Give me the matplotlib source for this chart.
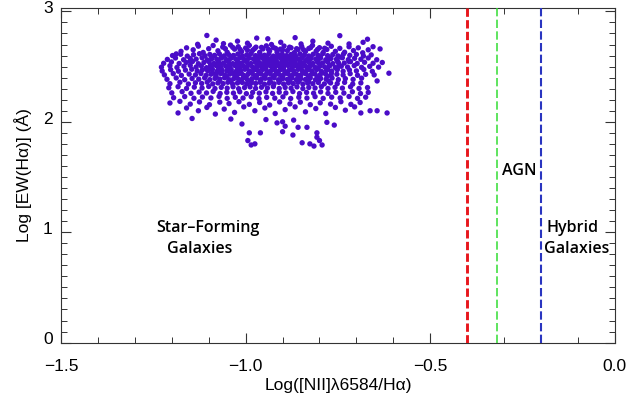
import numpy as np
import matplotlib
matplotlib.use("Agg")
import matplotlib.pyplot as plt
import matplotlib.transforms as mtransforms
from matplotlib.ticker import MultipleLocator, FuncFormatter

# Star-forming galaxies: (log([NII]6584/Halpha), log EW(Halpha) [A])
sf_points = [
    # upper fringe
    (-1.105, 2.782), (-0.970, 2.758), (-0.940, 2.752), (-0.866, 2.762), (-1.022, 2.730),
    (-0.777, 2.712), (-0.670, 2.748), (-0.682, 2.720), (-0.745, 2.780), (-1.060, 2.708),
    (-1.130, 2.702), (-0.905, 2.720), (-0.995, 2.712), (-0.818, 2.730), (-0.720, 2.705),
    (-1.080, 2.740), (-0.850, 2.705), (-0.930, 2.700),
    # 2.62 - 2.70
    (-1.175, 2.638), (-1.160, 2.670), (-1.142, 2.652), (-1.128, 2.685), (-1.115, 2.628),
    (-1.100, 2.662), (-1.088, 2.691), (-1.075, 2.643), (-1.062, 2.677), (-1.050, 2.630),
    (-1.041, 2.695), (-1.030, 2.658), (-1.020, 2.680), (-1.011, 2.636), (-1.000, 2.668),
    (-0.990, 2.692), (-0.981, 2.647), (-0.972, 2.676), (-0.962, 2.629), (-0.953, 2.660),
    (-0.944, 2.688), (-0.935, 2.642), (-0.925, 2.673), (-0.915, 2.632), (-0.906, 2.658),
    (-0.896, 2.686), (-0.887, 2.645), (-0.877, 2.670), (-0.868, 2.627), (-0.858, 2.655),
    (-0.848, 2.681), (-0.838, 2.637), (-0.829, 2.664), (-0.819, 2.692), (-0.809, 2.640),
    (-0.800, 2.671), (-0.790, 2.628), (-0.780, 2.655), (-0.768, 2.684), (-0.757, 2.638),
    (-0.745, 2.665), (-0.732, 2.630), (-0.720, 2.680), (-0.708, 2.645), (-0.695, 2.670),
    (-0.683, 2.625), (-0.668, 2.652), (-1.188, 2.615), (-0.655, 2.680), (-0.636, 2.660),
    (-1.055, 2.662), (-1.035, 2.674), (-1.015, 2.655), (-0.995, 2.648), (-0.976, 2.662),
    (-0.957, 2.674), (-0.938, 2.655), (-0.919, 2.665), (-0.900, 2.650), (-0.881, 2.676),
    (-0.862, 2.662), (-0.843, 2.652), (-0.824, 2.672), (-0.805, 2.656), (-0.786, 2.666),
    # ~2.60
    (-1.198, 2.600), (-1.176, 2.612), (-1.158, 2.595), (-1.141, 2.608), (-1.125, 2.617),
    (-1.110, 2.598), (-1.097, 2.610), (-1.084, 2.602), (-1.071, 2.615), (-1.058, 2.597),
    (-1.046, 2.609), (-1.033, 2.601), (-1.021, 2.614), (-1.009, 2.596), (-0.997, 2.606),
    (-0.985, 2.618), (-0.973, 2.599), (-0.961, 2.611), (-0.949, 2.603), (-0.937, 2.616),
    (-0.925, 2.595), (-0.913, 2.607), (-0.901, 2.613), (-0.889, 2.600), (-0.877, 2.610),
    (-0.865, 2.598), (-0.853, 2.615), (-0.841, 2.605), (-0.829, 2.596), (-0.817, 2.612),
    (-0.804, 2.602), (-0.791, 2.617), (-0.778, 2.599), (-0.764, 2.609), (-0.750, 2.597),
    (-0.735, 2.614), (-0.718, 2.602), (-0.700, 2.610), (-0.681, 2.596), (-0.660, 2.606),
    (-1.092, 2.585), (-1.066, 2.580), (-1.040, 2.590), (-1.015, 2.582), (-0.991, 2.588),
    (-0.967, 2.579), (-0.943, 2.590), (-0.919, 2.583), (-0.895, 2.587), (-0.871, 2.578),
    (-0.847, 2.589), (-0.823, 2.582), (-0.798, 2.588), (-0.772, 2.580), (-0.745, 2.586),
    # ~2.57
    (-1.212, 2.565), (-1.190, 2.578), (-1.168, 2.562), (-1.150, 2.574), (-1.134, 2.568),
    (-1.118, 2.580), (-1.104, 2.561), (-1.091, 2.573), (-1.078, 2.567), (-1.065, 2.579),
    (-1.052, 2.563), (-1.040, 2.575), (-1.027, 2.569), (-1.015, 2.581), (-1.003, 2.564),
    (-0.991, 2.576), (-0.979, 2.570), (-0.967, 2.560), (-0.955, 2.578), (-0.943, 2.566),
    (-0.931, 2.573), (-0.919, 2.562), (-0.907, 2.580), (-0.895, 2.568), (-0.883, 2.575),
    (-0.871, 2.561), (-0.859, 2.571), (-0.847, 2.579), (-0.835, 2.564), (-0.823, 2.574),
    (-0.810, 2.567), (-0.797, 2.578), (-0.783, 2.562), (-0.769, 2.573), (-0.754, 2.567),
    (-0.738, 2.580), (-0.722, 2.563), (-0.705, 2.575), (-0.688, 2.566), (-0.668, 2.578),
    (-0.645, 2.562),
    (-1.100, 2.550), (-1.074, 2.545), (-1.048, 2.554), (-1.022, 2.547), (-0.997, 2.553),
    (-0.973, 2.544), (-0.949, 2.555), (-0.925, 2.548), (-0.901, 2.552), (-0.877, 2.543),
    (-0.853, 2.554), (-0.829, 2.547), (-0.804, 2.553), (-0.778, 2.545), (-0.752, 2.551),
    (-1.150, 2.548), (-0.720, 2.546),
    # ~2.535
    (-1.222, 2.530), (-1.201, 2.542), (-1.180, 2.528), (-1.161, 2.538), (-1.144, 2.546),
    (-1.128, 2.526), (-1.113, 2.537), (-1.099, 2.545), (-1.086, 2.529), (-1.073, 2.540),
    (-1.060, 2.532), (-1.047, 2.544), (-1.035, 2.527), (-1.022, 2.539), (-1.010, 2.533),
    (-0.998, 2.546), (-0.986, 2.528), (-0.974, 2.540), (-0.962, 2.534), (-0.950, 2.525),
    (-0.938, 2.543), (-0.926, 2.531), (-0.914, 2.538), (-0.902, 2.527), (-0.890, 2.545),
    (-0.878, 2.533), (-0.866, 2.540), (-0.854, 2.526), (-0.842, 2.536), (-0.830, 2.544),
    (-0.818, 2.529), (-0.805, 2.539), (-0.792, 2.532), (-0.778, 2.543), (-0.764, 2.527),
    (-0.749, 2.538), (-0.733, 2.532), (-0.716, 2.545), (-0.698, 2.528), (-0.678, 2.539),
    (-0.655, 2.530), (-0.630, 2.537),
    (-1.095, 2.515), (-1.069, 2.510), (-1.043, 2.519), (-1.017, 2.512), (-0.992, 2.518),
    (-0.968, 2.509), (-0.944, 2.520), (-0.920, 2.513), (-0.896, 2.517), (-0.872, 2.508),
    (-0.848, 2.519), (-0.824, 2.512), (-0.799, 2.518), (-0.773, 2.510), (-0.747, 2.516),
    # ~2.50
    (-1.228, 2.495), (-1.205, 2.508), (-1.186, 2.492), (-1.167, 2.503), (-1.150, 2.511),
    (-1.134, 2.496), (-1.120, 2.506), (-1.106, 2.490), (-1.093, 2.502), (-1.080, 2.510),
    (-1.067, 2.494), (-1.054, 2.505), (-1.042, 2.498), (-1.029, 2.509), (-1.017, 2.492),
    (-1.005, 2.503), (-0.993, 2.511), (-0.981, 2.495), (-0.969, 2.506), (-0.957, 2.499),
    (-0.945, 2.490), (-0.933, 2.508), (-0.921, 2.496), (-0.909, 2.504), (-0.897, 2.492),
    (-0.885, 2.510), (-0.873, 2.498), (-0.861, 2.505), (-0.849, 2.491), (-0.837, 2.502),
    (-0.825, 2.509), (-0.812, 2.494), (-0.799, 2.504), (-0.786, 2.497), (-0.772, 2.508),
    (-0.757, 2.492), (-0.741, 2.503), (-0.724, 2.496), (-0.706, 2.509), (-0.686, 2.493),
    (-0.664, 2.502), (-0.640, 2.495),
    (-1.100, 2.480), (-1.074, 2.475), (-1.048, 2.484), (-1.022, 2.477), (-0.997, 2.483),
    (-0.973, 2.474), (-0.949, 2.485), (-0.925, 2.478), (-0.901, 2.482), (-0.877, 2.473),
    (-0.853, 2.484), (-0.829, 2.477), (-0.804, 2.483), (-0.778, 2.475), (-0.752, 2.481),
    # ~2.465
    (-1.226, 2.460), (-1.203, 2.472), (-1.182, 2.458), (-1.163, 2.468), (-1.146, 2.476),
    (-1.131, 2.460), (-1.117, 2.471), (-1.103, 2.464), (-1.090, 2.475), (-1.077, 2.457),
    (-1.064, 2.468), (-1.051, 2.461), (-1.039, 2.473), (-1.026, 2.456), (-1.014, 2.467),
    (-1.002, 2.476), (-0.990, 2.459), (-0.978, 2.470), (-0.966, 2.463), (-0.954, 2.474),
    (-0.942, 2.455), (-0.930, 2.466), (-0.918, 2.460), (-0.906, 2.472), (-0.894, 2.457),
    (-0.882, 2.469), (-0.870, 2.462), (-0.858, 2.475), (-0.846, 2.458), (-0.834, 2.467),
    (-0.821, 2.461), (-0.808, 2.473), (-0.795, 2.456), (-0.781, 2.468), (-0.767, 2.460),
    (-0.752, 2.472), (-0.736, 2.458), (-0.719, 2.469), (-0.700, 2.461), (-0.680, 2.474),
    (-0.657, 2.457), (-0.612, 2.440),
    (-1.090, 2.445), (-1.064, 2.440), (-1.038, 2.449), (-1.012, 2.442), (-0.987, 2.448),
    (-0.963, 2.439), (-0.939, 2.450), (-0.915, 2.443), (-0.891, 2.447), (-0.867, 2.438),
    (-0.843, 2.449), (-0.819, 2.442), (-0.794, 2.448), (-0.768, 2.440),
    # ~2.43
    (-1.220, 2.425), (-1.196, 2.436), (-1.174, 2.420), (-1.153, 2.432), (-1.136, 2.424),
    (-1.121, 2.437), (-1.107, 2.421), (-1.094, 2.431), (-1.081, 2.426), (-1.068, 2.438),
    (-1.055, 2.420), (-1.043, 2.432), (-1.030, 2.425), (-1.018, 2.436), (-1.006, 2.422),
    (-0.994, 2.430), (-0.982, 2.438), (-0.970, 2.421), (-0.958, 2.433), (-0.946, 2.426),
    (-0.934, 2.437), (-0.922, 2.420), (-0.910, 2.431), (-0.898, 2.424), (-0.886, 2.436),
    (-0.874, 2.422), (-0.862, 2.430), (-0.850, 2.425), (-0.838, 2.437), (-0.825, 2.421),
    (-0.812, 2.432), (-0.798, 2.426), (-0.784, 2.435), (-0.769, 2.420), (-0.753, 2.431),
    (-0.736, 2.424), (-0.717, 2.436), (-0.697, 2.421), (-0.675, 2.430), (-0.652, 2.425),
    (-1.080, 2.410), (-1.052, 2.405), (-1.025, 2.414), (-0.999, 2.407), (-0.974, 2.413),
    (-0.950, 2.404), (-0.926, 2.415), (-0.902, 2.408), (-0.878, 2.412), (-0.854, 2.403),
    (-0.830, 2.414), (-0.805, 2.407), (-0.779, 2.413),
    # ~2.39
    (-1.213, 2.385), (-1.188, 2.397), (-1.165, 2.381), (-1.145, 2.392), (-1.127, 2.386),
    (-1.111, 2.398), (-1.097, 2.382), (-1.083, 2.393), (-1.070, 2.387), (-1.057, 2.399),
    (-1.044, 2.381), (-1.032, 2.391), (-1.019, 2.385), (-1.007, 2.397), (-0.995, 2.380),
    (-0.983, 2.390), (-0.971, 2.396), (-0.959, 2.383), (-0.947, 2.394), (-0.935, 2.387),
    (-0.923, 2.398), (-0.911, 2.381), (-0.899, 2.392), (-0.887, 2.385), (-0.875, 2.396),
    (-0.863, 2.382), (-0.851, 2.390), (-0.838, 2.384), (-0.825, 2.397), (-0.811, 2.381),
    (-0.797, 2.392), (-0.782, 2.386), (-0.766, 2.396), (-0.749, 2.382), (-0.730, 2.391),
    (-0.709, 2.384), (-0.686, 2.395), (-0.644, 2.370),
    (-1.070, 2.370), (-1.040, 2.365), (-1.012, 2.374), (-0.985, 2.367), (-0.959, 2.373),
    (-0.933, 2.364), (-0.907, 2.375), (-0.881, 2.368), (-0.855, 2.372), (-0.829, 2.363),
    (-0.802, 2.374), (-0.775, 2.367),
    # ~2.35
    (-1.205, 2.345), (-1.178, 2.358), (-1.155, 2.342), (-1.136, 2.353), (-1.119, 2.347),
    (-1.104, 2.359), (-1.089, 2.343), (-1.075, 2.352), (-1.061, 2.346), (-1.048, 2.358),
    (-1.035, 2.341), (-1.022, 2.351), (-1.009, 2.356), (-0.997, 2.343), (-0.985, 2.353),
    (-0.973, 2.347), (-0.961, 2.358), (-0.949, 2.341), (-0.936, 2.350), (-0.923, 2.344),
    (-0.910, 2.357), (-0.897, 2.342), (-0.884, 2.352), (-0.871, 2.346), (-0.858, 2.358),
    (-0.845, 2.341), (-0.832, 2.351), (-0.818, 2.345), (-0.803, 2.356), (-0.787, 2.343),
    (-0.770, 2.352), (-0.752, 2.346), (-0.732, 2.357), (-0.710, 2.342), (-0.688, 2.352),
    # ~2.31
    (-1.208, 2.308), (-1.183, 2.318), (-1.160, 2.302), (-1.139, 2.314), (-1.118, 2.306),
    (-1.100, 2.320), (-1.083, 2.301), (-1.066, 2.312), (-1.050, 2.305), (-1.034, 2.317),
    (-1.019, 2.300), (-1.003, 2.310), (-0.988, 2.316), (-0.973, 2.303), (-0.957, 2.313),
    (-0.941, 2.306), (-0.925, 2.319), (-0.909, 2.302), (-0.893, 2.311), (-0.877, 2.305),
    (-0.861, 2.316), (-0.845, 2.301), (-0.829, 2.311), (-0.812, 2.306), (-0.795, 2.318),
    (-0.777, 2.302), (-0.758, 2.312), (-0.738, 2.305), (-0.716, 2.317), (-0.693, 2.302),
    (-0.670, 2.310),
    # ~2.265
    (-1.200, 2.262), (-1.172, 2.273), (-1.148, 2.258), (-1.126, 2.269), (-1.106, 2.261),
    (-1.088, 2.275), (-1.069, 2.256), (-1.051, 2.267), (-1.033, 2.260), (-1.016, 2.272),
    (-0.998, 2.255), (-0.981, 2.266), (-0.963, 2.259), (-0.945, 2.271), (-0.927, 2.257),
    (-0.909, 2.268), (-0.891, 2.261), (-0.872, 2.274), (-0.854, 2.256), (-0.835, 2.266),
    (-0.816, 2.259), (-0.797, 2.271), (-0.777, 2.257), (-0.756, 2.267), (-0.734, 2.260),
    (-0.711, 2.272), (-0.689, 2.256), (-0.668, 2.266),
    # ~2.22
    (-1.195, 2.218), (-1.165, 2.228), (-1.140, 2.213), (-1.117, 2.224), (-1.094, 2.216),
    (-1.072, 2.230), (-1.050, 2.212), (-1.028, 2.222), (-1.007, 2.215), (-0.985, 2.227),
    (-0.964, 2.210), (-0.943, 2.221), (-0.921, 2.214), (-0.899, 2.226), (-0.878, 2.211),
    (-0.856, 2.222), (-0.834, 2.215), (-0.812, 2.228), (-0.790, 2.212), (-0.767, 2.223),
    (-0.744, 2.216), (-0.720, 2.229), (-0.697, 2.212), (-0.675, 2.223),
    # 2.03 - 2.19
    (-1.205, 2.170), (-1.178, 2.185), (-1.150, 2.160), (-1.125, 2.180), (-1.098, 2.155),
    (-1.070, 2.178), (-1.045, 2.165), (-1.018, 2.182), (-0.990, 2.158), (-0.962, 2.175),
    (-0.935, 2.152), (-0.908, 2.180), (-0.880, 2.162), (-0.852, 2.178), (-0.825, 2.155),
    (-0.798, 2.172), (-0.770, 2.160), (-0.742, 2.182), (-0.715, 2.158), (-0.690, 2.175),
    (-0.663, 2.100), (-0.644, 2.100), (-0.617, 2.080),
    (-1.183, 2.080), (-1.160, 2.125), (-1.145, 2.030), (-1.128, 2.100), (-1.105, 2.130),
    (-1.082, 2.070), (-1.058, 2.115), (-1.030, 2.085), (-1.005, 2.135), (-0.975, 2.100),
    (-0.948, 2.125), (-0.920, 2.075), (-0.893, 2.110), (-0.866, 2.135), (-0.838, 2.090),
    (-0.810, 2.120), (-0.783, 2.075), (-0.757, 2.130), (-0.730, 2.105), (-0.705, 2.135),
    (-0.688, 2.080),
    # low-EW tail
    (-0.994, 1.830), (-0.975, 1.800), (-0.990, 1.900), (-0.960, 1.900), (-0.893, 1.960),
    (-0.900, 1.910), (-0.872, 1.880), (-0.847, 1.810), (-0.826, 1.800), (-0.807, 1.860),
    (-0.834, 1.950), (-0.858, 1.950), (-0.915, 1.990), (-0.900, 2.000), (-0.807, 1.900),
    (-0.800, 1.830), (-0.793, 1.790), (-1.010, 1.980), (-0.945, 2.020), (-0.870, 2.015),
    (-0.780, 1.995), (-0.760, 1.970), (-1.040, 2.025), (-0.985, 1.790), (-0.815, 1.780),
]
log_nii_ha = np.array([p[0] for p in sf_points])
log_ew_ha = np.array([p[1] for p in sf_points])

# Demarcation lines in log([NII]/Halpha)
divider_x = [-0.4, -0.32, -0.2]
divider_colors = ["#e8161c", "#33dd33", "#2a35c0"]
divider_widths = [2.1, 1.1, 1.5]

# Region labels, one entry per text line
label_lines = ["Star\u2013Forming", "Galaxies", "AGN", "Hybrid", "Galaxies"]
label_x = [-1.101, -1.124, -0.260, -0.114, -0.103]
label_y = [1.038, 0.848, 1.555, 1.038, 0.848]

plt.rcParams["font.family"] = ["Liberation Sans", "DejaVu Sans"]

fig = plt.figure(figsize=(6.32, 4.04), dpi=100)
ax = fig.add_axes([0.0965, 0.152, 0.8765, 0.828])

ax.scatter(log_nii_ha, log_ew_ha, s=15, color="#4a0cc8", edgecolors="none", zorder=2)

for xv, c, lw in zip(divider_x, divider_colors, divider_widths):
    # same physical dash length (points) for every line
    ax.axvline(xv, color=c, lw=lw, ls=(0, (6.0 / lw, 2.4 / lw)), zorder=3)

for txt, tx, ty in zip(label_lines, label_x, label_y):
    ax.text(tx, ty, txt, ha="center", va="center", fontsize=11.5,
            family=["Open Sans", "DejaVu Sans"], fontweight="semibold",
            color="black")

ax.set_xlim(-1.5, 0.0)
ax.set_ylim(0.0, 3.03)
ax.xaxis.set_major_locator(MultipleLocator(0.5))
ax.xaxis.set_minor_locator(MultipleLocator(0.1))
ax.yaxis.set_major_locator(MultipleLocator(1))
ax.yaxis.set_minor_locator(MultipleLocator(0.1))
ax.xaxis.set_major_formatter(FuncFormatter(lambda v, p: f"{v:.1f}".replace("-", "\u2212")))
ax.yaxis.set_major_formatter(FuncFormatter(lambda v, p: f"{v:.0f}"))

ax.tick_params(which="both", direction="in", top=True, right=True,
               colors="#333333", labelcolor="black", labelsize=12.5)
ax.tick_params(which="major", length=7.5, width=0.8)
ax.tick_params(which="minor", length=4, width=0.7)
ax.tick_params(axis="x", which="major", pad=12)
ax.tick_params(axis="y", which="major", pad=6)
for sp in ax.spines.values():
    sp.set_color("#333333")
    sp.set_linewidth(0.8)

ax.set_xlabel("Log([NII]\u03bb6584/H\u03b1)", fontsize=12.5, labelpad=3)
ax.set_ylabel("Log [EW(H\u03b1)] (\u00c5)", fontsize=12.5, labelpad=8)

# y tick labels sit slightly above their ticks
lift = mtransforms.ScaledTranslation(0, 3 / 72, fig.dpi_scale_trans)
for lbl in ax.get_yticklabels():
    lbl.set_transform(lbl.get_transform() + lift)

fig.savefig("out.png", dpi=100)
